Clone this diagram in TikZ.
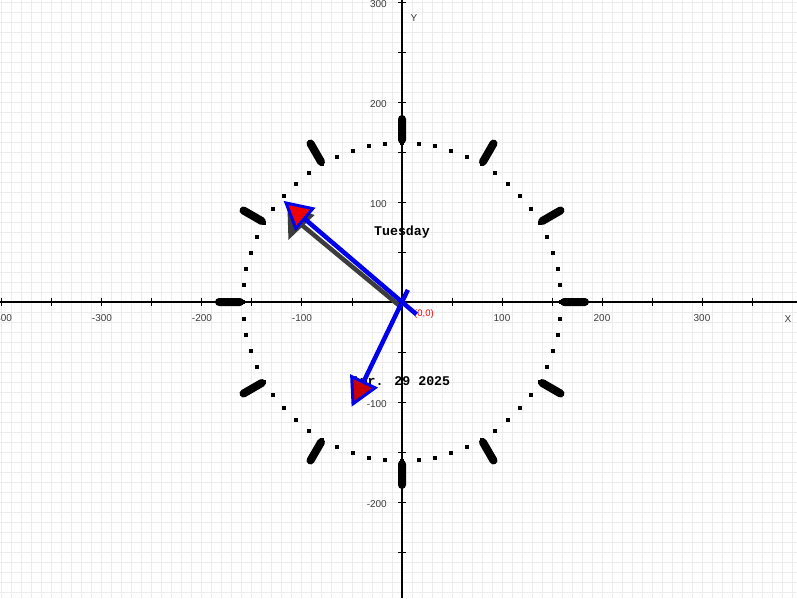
\documentclass[tikz,border=0pt]{standalone}
\usepackage{fontspec}
\setmainfont{Liberation Sans}
\newfontfamily\clockmono{Liberation Mono}
\usetikzlibrary{calc}
\definecolor{gridgray}{RGB}{236,236,236}
\definecolor{handblue}{RGB}{0,0,235}
\definecolor{headred}{RGB}{240,0,0}
\definecolor{headredd}{RGB}{200,0,0}
\definecolor{shadowgray}{RGB}{60,60,60}
\definecolor{labelgray}{RGB}{60,60,60}
\begin{document}
\begin{tikzpicture}[x=1pt,y=1pt,
  gridline/.style={draw=gridgray,line width=1pt},
  axisline/.style={draw=black,line width=2pt},
  tickmark/.style={draw=black,line width=1pt},
  axlabel/.style={font=\fontsize{10}{10}\selectfont,text=labelgray,inner sep=0pt},
  hourbar/.style={fill=black,rounded corners=4pt},
  handline/.style={draw=handblue,line width=4.5pt},
  headstyle/.style={draw=handblue,line width=3pt,line join=miter},
  shadowline/.style={draw=shadowgray,line width=4.5pt},
  shadowhead/.style={draw=shadowgray,fill=shadowgray,line width=3pt},
  daytext/.style={font=\clockmono\bfseries\fontsize{13.3}{13.3}\selectfont,inner sep=0pt}]
\useasboundingbox (-402,-296) rectangle (395,302);
\clip (-402,-296) rectangle (395,302);
\fill[white] (-402,-296) rectangle (395,302);
% grid
\foreach \x in {-400,-390,...,390} \draw[gridline] (\x,-296) -- (\x,302);
\foreach \y in {-290,-280,...,300} \draw[gridline] (-402,\y) -- (395,\y);
% clock face
\foreach \i in {0,...,59} \fill[black] (\i*6:159) ++(-2,-2) rectangle ++(4,4);
\foreach \a in {0,30,...,330} \fill[hourbar,rotate=\a] (158,-4) rectangle (187,4);
% texts
\node[daytext] (day) at (0,70) {Tuesday};
\node[daytext] (date) at (-1,-80) {Apr. 29 2025};
% axes
\draw[axisline] (-402,0) -- (395,0);
\draw[axisline] (0,-296) -- (0,302);
\foreach \x in {-400,-350,...,350} \draw[tickmark] (\x,-4) -- (\x,4);
\foreach \y in {-250,-200,...,300} \draw[tickmark] (-4,\y) -- (4,\y);
\foreach \x [count=\k] in {-400,-300,-200,-100,100,200,300}
  \node[axlabel] (xlab\k) at (\x,-16) {\x};
\foreach \y [count=\k] in {300,200,100,-100,-200}
  \node[axlabel,anchor=east] (ylab\k) at (-15,\y-2) {\y};
\node[axlabel] (xname) at (386,-17) {X};
\node[axlabel] (yname) at (12,284) {Y};
\node[font=\fontsize{9.5}{9.5}\selectfont,text=red,inner sep=0pt] (orig) at (22,-12) {(0,0)};
% minute hand geometry
\coordinate (ctr) at (0,0);
\coordinate (mtail) at (-40.5:19);
\coordinate (mbase) at (139.5:128.5);
\coordinate (mtip) at (139.5:152.5);
\coordinate (mb1) at ($(mbase)+(229.5:13)$);
\coordinate (mb2) at ($(mbase)+(49.5:13)$);
% hour hand geometry
\coordinate (htail) at (64.3:13.5);
\coordinate (hbase) at (244.3:89);
\coordinate (htip) at (244.3:113);
\coordinate (hb1) at ($(hbase)+(334.3:13)$);
\coordinate (hb2) at ($(hbase)+(154.3:13)$);
% shadow of minute hand
\draw[shadowline] ($(ctr)+(-1,-5)$) -- ($(mbase)+(-3,-6)$);
\filldraw[shadowhead] ($(mtip)+(3,-7)$) -- ($(mb1)+(-6,-8)$) -- ($(mb2)+(-1,-7)$) -- cycle;
% hour hand
\draw[handline] (htail) -- (hbase);
\filldraw[headstyle,fill=headredd] (htip) -- (hb1) -- (hb2) -- cycle;
% minute hand
\draw[handline] (mtail) -- (mbase);
\filldraw[headstyle,fill=headred] (mtip) -- (mb1) -- (mb2) -- cycle;
\end{tikzpicture}
\end{document}
